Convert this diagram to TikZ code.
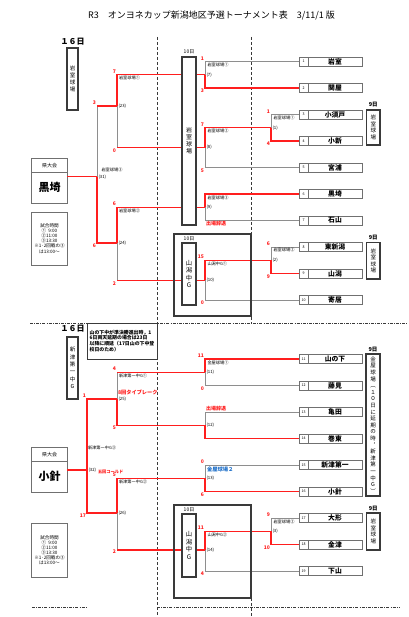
\documentclass[tikz,border=0pt]{standalone}
\usepackage{fontspec}
\setmainfont{Noto Sans CJK JP}
\usetikzlibrary{positioning}
\usepackage{xcolor}

\definecolor{winred}{HTML}{FF1E1E}
\definecolor{losegray}{HTML}{8E8E8E}
\definecolor{boxgray}{HTML}{707070}
\definecolor{darkline}{HTML}{3A3A3A}
\definecolor{siteblue}{HTML}{1E6FC8}

\tikzset{
	win/.style = {draw=winred, line width=1.2pt},
	lose/.style = {draw=losegray, line width=0.9pt},
	numcell/.style = {draw=boxgray, line width=0.8pt, outer sep=0pt, inner sep=0pt, minimum width=9pt, minimum height=9pt, font=\fontsize{3.6}{4}\selectfont},
	namecell/.style = {draw=boxgray, line width=0.8pt, outer sep=0pt, inner sep=0pt, minimum width=54pt, minimum height=9pt, font=\fontsize{6.8}{7}\selectfont\bfseries},
	score/.style = {text=winred, inner sep=0.3pt, font=\fontsize{5}{5}\selectfont\bfseries},
	site/.style = {inner sep=0.3pt, font=\fontsize{4.2}{4.5}\selectfont},
	gameno/.style = {inner sep=0.3pt, font=\fontsize{4.3}{4.5}\selectfont},
	venue/.style = {draw=darkline, line width=1.1pt, fill=white, outer sep=0pt, inner sep=0pt, align=center},
	enclosure/.style = {draw=darkline, line width=1.1pt, outer sep=0pt, inner sep=0pt, minimum width=77pt},
	day/.style = {inner sep=0pt, font=\fontsize{5.5}{5.5}\selectfont\bfseries},
	smallday/.style = {inner sep=0pt, font=\fontsize{5}{5}\selectfont},
	bigday/.style = {inner sep=0pt, font=\fontsize{8}{8}\selectfont\bfseries},
	redtag/.style = {text=winred, inner sep=0.3pt, font=\fontsize{5}{5}\selectfont\bfseries},
	panel/.style = {draw=boxgray, line width=0.9pt, outer sep=0pt, inner sep=0pt, minimum width=35.6pt, align=center},
	sep/.style = {draw=darkline, line width=0.8pt, dash pattern=on 3pt off 2pt},
	sepdot/.style = {draw=darkline, line width=0.7pt, dash pattern=on 3pt off 1.2pt on 0.8pt off 1.2pt}
}

\begin{document}
\begin{tikzpicture}[x=1pt, y=-1pt]
	\useasboundingbox (0,0) rectangle (408,617);

	\node[font=\fontsize{9}{9}\selectfont] (title) at (211.5,15.7) {R3　オンヨネカップ新潟地区予選トーナメント表　3/11/1 版};

	\draw[sep] (157,37) -- (157,617);
	\draw[sep] (251,37) -- (251,323);
	\draw[sep] (251,598) -- (251,617);
	\draw[sepdot] (30,323) -- (408,323);
	\draw[sepdot] (32,607) -- (87,607);
	\draw[sepdot] (157,607) -- (400,607);

	\node[bigday] (day16a) at (72.5,42) {１６日};
	\node[venue, minimum width=11pt, minimum height=62pt, font=\fontsize{5.5}{7}\selectfont] (iwamuroL) at (72.5,79) {岩\\室\\球\\場};
	\node[panel, minimum height=13.6pt, font=\fontsize{5}{5}\selectfont] (ken1h) at (49.5,165.5) {県大会};
	\node[panel, minimum height=30.7pt, font=\fontsize{11}{11}\selectfont\bfseries] (ken1) [below=0pt of ken1h] {黒埼};
	\node[panel, minimum height=53pt, font=\fontsize{4.6}{5.1}\selectfont] (time1) at (49.5,238.5) {試合時間\\①\ \ 9:00\\②11:00\\③13:30\\※1･2回戦の③\\は13:00～};

	\node[bigday] (day16b) at (72.5,329) {１６日};
	\node[venue, minimum width=11pt, minimum height=62pt, font=\fontsize{5.5}{7.4}\selectfont] (niitsuL) at (72.5,368) {新\\津\\第\\一\\中\\G};
	\node[panel, minimum height=13.8pt, font=\fontsize{5}{5}\selectfont] (ken2h) at (49.5,454.2) {県大会};
	\node[panel, minimum height=31pt, font=\fontsize{11}{11}\selectfont\bfseries] (ken2) [below=0pt of ken2h] {小針};
	\node[panel, minimum height=54pt, font=\fontsize{4.6}{5.1}\selectfont] (time2) at (49.5,550) {試合時間\\①\ \ 9:00\\②11:00\\③13:30\\※1･2回戦の③\\は13:00～};

	\node[numcell] (n1) at (303.5,61.5) {1};
	\node[namecell] (t1) [right=0pt of n1] {岩室};
	\node[numcell] (n2) at (303.5,88) {2};
	\node[namecell] (t2) [right=0pt of n2] {関屋};
	\node[numcell] (n3) at (303.5,114.5) {3};
	\node[namecell] (t3) [right=0pt of n3] {小須戸};
	\node[numcell] (n4) at (303.5,141) {4};
	\node[namecell] (t4) [right=0pt of n4] {小新};
	\node[numcell] (n5) at (303.5,167.5) {5};
	\node[namecell] (t5) [right=0pt of n5] {宮浦};
	\node[numcell] (n6) at (303.5,194) {6};
	\node[namecell] (t6) [right=0pt of n6] {黒埼};
	\node[numcell] (n7) at (303.5,220.5) {7};
	\node[namecell] (t7) [right=0pt of n7] {石山};
	\node[numcell] (n8) at (303.5,247) {8};
	\node[namecell] (t8) [right=0pt of n8] {東新潟};
	\node[numcell] (n9) at (303.5,273.5) {9};
	\node[namecell] (t9) [right=0pt of n9] {山潟};
	\node[numcell] (n10) at (303.5,300) {10};
	\node[namecell] (t10) [right=0pt of n10] {寄居};
	\node[numcell] (n11) at (303.5,359) {11};
	\node[namecell] (t11) [right=0pt of n11] {山の下};
	\node[numcell] (n12) at (303.5,385.5) {12};
	\node[namecell] (t12) [right=0pt of n12] {藤見};
	\node[numcell] (n13) at (303.5,412) {13};
	\node[namecell] (t13) [right=0pt of n13] {亀田};
	\node[numcell] (n14) at (303.5,438.5) {14};
	\node[namecell] (t14) [right=0pt of n14] {巻東};
	\node[numcell] (n15) at (303.5,465) {15};
	\node[namecell] (t15) [right=0pt of n15] {新津第一};
	\node[numcell] (n16) at (303.5,491.5) {16};
	\node[namecell] (t16) [right=0pt of n16] {小針};
	\node[numcell] (n17) at (303.5,518) {17};
	\node[namecell] (t17) [right=0pt of n17] {大形};
	\node[numcell] (n18) at (303.5,544.5) {18};
	\node[namecell] (t18) [right=0pt of n18] {金津};
	\node[numcell] (n19) at (303.5,571) {19};
	\node[namecell] (t19) [right=0pt of n19] {下山};

	\coordinate (m1) at (271,127.7);
	\coordinate (m2) at (271,260.3);
	\coordinate (m7) at (205,74.7);
	\coordinate (m8) at (205,147.6);
	\coordinate (m9) at (205,207.2);
	\coordinate (m10) at (205,280.2);
	\coordinate (m23) at (117,106);
	\coordinate (m24) at (117,243);
	\coordinate (m31) at (97,176.7);
	\coordinate (m11) at (205,372.2);
	\coordinate (m12) at (205,425.2);
	\coordinate (m13) at (205,478.2);
	\coordinate (m3) at (271,531.2);
	\coordinate (m14) at (205,550);
	\coordinate (m25) at (117,399);
	\coordinate (m26) at (117,513);
	\coordinate (m32) at (87,470);

	\draw[lose] (n1.west) -- (m7 |- n1.west) -- (m7);
	\draw[win] (m7) -- (m7 |- n2.west) -- (n2.west);
	\draw[lose] (n3.west) -- (m1 |- n3.west) -- (m1);
	\draw[win] (m1) -- (m1 |- n4.west) -- (n4.west);
	\draw[lose] (m8) -- (m8 |- n5.west) -- (n5.west);
	\draw[win] (m1) -- (m8 |- m1) -- (m8);
	\draw[lose] (m9) -- (m9 |- n7.west) -- (n7.west);
	\draw[win] (n6.west) -- (m9 |- n6.west) -- (m9);
	\draw[lose] (n8.west) -- (m2 |- n8.west) -- (m2);
	\draw[win] (m2) -- (m2 |- n9.west) -- (n9.west);
	\draw[lose] (m10) -- (m10 |- n10.west) -- (n10.west);
	\draw[win] (m2) -- (m10 |- m2) -- (m10);
	\draw[lose] (m23) -- (m23 |- m8);
	\draw[win] (m23 |- m8) -- (m8);
	\draw[win] (m7) -- (m23 |- m7) -- (m23);
	\draw[lose] (m24) -- (m24 |- m10);
	\draw[win] (m24 |- m10) -- (m10);
	\draw[win] (m9) -- (m24 |- m9) -- (m24);
	\draw[lose] (m31 |- m23) -- (m31);
	\draw[win] (m23) -- (m31 |- m23);
	\draw[win] (m31) -- (m31 |- m24) -- (m24);
	\draw[win] (m31) -- (m31 -| ken1.east);

	\draw[lose] (m11) -- (m11 |- n12.west) -- (n12.west);
	\draw[win] (n11.west) -- (m11 |- n11.west) -- (m11);
	\draw[lose] (n13.west) -- (m12 |- n13.west) -- (m12);
	\draw[win] (m12) -- (m12 |- n14.west) -- (n14.west);
	\draw[lose] (n15.west) -- (m13 |- n15.west) -- (m13);
	\draw[win] (m13) -- (m13 |- n16.west) -- (n16.west);
	\draw[lose] (n17.west) -- (m3 |- n17.west) -- (m3);
	\draw[win] (m3) -- (m3 |- n18.west) -- (n18.west);
	\draw[lose] (m14) -- (m14 |- n19.west) -- (n19.west);
	\draw[win] (m3) -- (m14 |- m3) -- (m14);
	\draw[lose] (m25) -- (m25 |- m11);
	\draw[win] (m25 |- m11) -- (m11);
	\draw[win] (m12) -- (m25 |- m12) -- (m25);
	\draw[lose] (m26) -- (m26 |- m14);
	\draw[win] (m26 |- m14) -- (m14);
	\draw[win] (m13) -- (m26 |- m13) -- (m26);
	\draw[win] (m25) -- (m32 |- m25) -- (m32 |- m26) -- (m26);
	\draw[win] (m32) -- (m32 -| ken2.east);

	\node[score, anchor=south east] (s7a) at (204.5,60.7) {1};
	\node[score, anchor=north east] (s7b) at (204.5,88.6) {3};
	\node[site, anchor=north west] (p7) at (207,62.5) {岩室球場①};
	\node[gameno, anchor=west] (g7) at (206,74.7) {(7)};
	\node[score, anchor=south east] (s1a) at (270.5,113.7) {1};
	\node[score, anchor=north east] (s1b) at (270.5,141.6) {4};
	\node[site, anchor=north west] (p1) at (273,115.3) {岩室球場①};
	\node[gameno, anchor=west] (g1) at (272,127.7) {(1)};
	\node[score, anchor=south east] (s8a) at (204.5,126.9) {7};
	\node[score, anchor=north east] (s8b) at (204.5,168.1) {5};
	\node[site, anchor=north west] (p8) at (207,128.7) {岩室球場②};
	\node[gameno, anchor=west] (g8) at (206,147.6) {(8)};
	\node[site, anchor=north west] (p9) at (207,195.2) {岩室球場③};
	\node[gameno, anchor=west] (g9) at (206,207.2) {(9)};
	\node[redtag, anchor=west] (r9) at (205.5,223.5) {出場辞退};
	\node[score, anchor=south east] (s2a) at (270.5,246.2) {6};
	\node[score, anchor=north east] (s2b) at (270.5,274.1) {9};
	\node[site, anchor=north west] (p2) at (273,247.8) {岩室球場②};
	\node[gameno, anchor=west] (g2) at (272,260.3) {(2)};
	\node[score, anchor=south east] (s10a) at (204.5,259.5) {15};
	\node[score, anchor=north east] (s10b) at (204.5,300.6) {0};
	\node[site, anchor=north west] (p10) at (207,261.3) {山潟中G①};
	\node[gameno, anchor=west] (g10) at (206,280.2) {(10)};
	\node[score, anchor=south east] (s23a) at (116.5,73.9) {7};
	\node[score, anchor=north east] (s23b) at (116.5,148.2) {0};
	\node[site, anchor=north west] (p23) at (118.5,75.5) {岩室球場①};
	\node[gameno, anchor=west] (g23) at (118,106) {(23)};
	\node[score, anchor=south east] (s24a) at (116.5,206.4) {6};
	\node[score, anchor=north east] (s24b) at (116.5,280.8) {2};
	\node[site, anchor=north west] (p24) at (118.5,208.1) {岩室球場②};
	\node[gameno, anchor=west] (g24) at (118,243) {(24)};
	\node[score, anchor=south east] (s31a) at (96.5,105.2) {3};
	\node[score, anchor=north east] (s31b) at (96.5,243.6) {6};
	\node[site, anchor=west] (p31) at (101,170) {岩室球場③};
	\node[gameno, anchor=west] (g31) at (98,176.7) {(31)};

	\node[score, anchor=south east] (s11a) at (204.5,358.2) {11};
	\node[score, anchor=north east] (s11b) at (204.5,386.1) {0};
	\node[site, anchor=north west] (p11) at (207,360) {金屋球場①};
	\node[gameno, anchor=west] (g11) at (206,372.2) {(11)};
	\node[redtag, anchor=west] (r12) at (205.5,409) {出場辞退};
	\node[gameno, anchor=west] (g12) at (206,425.2) {(12)};
	\node[score, anchor=south east] (s13a) at (204.5,464.2) {0};
	\node[score, anchor=north east] (s13b) at (204.5,492.1) {6};
	\node[anchor=west, inner sep=0.3pt, text=siteblue, font=\fontsize{5.3}{5.5}\selectfont\bfseries] (p13) at (206.5,469.5) {金屋球場２};
	\node[gameno, anchor=west] (g13) at (206,478.2) {(13)};
	\node[score, anchor=south east] (s3a) at (270.5,517.2) {9};
	\node[score, anchor=north east] (s3b) at (270.5,545.1) {10};
	\node[site, anchor=north west] (p3) at (273,519) {岩室球場②};
	\node[gameno, anchor=west] (g3) at (272,531.2) {(3)};
	\node[score, anchor=south east] (s14a) at (204.5,530.4) {11};
	\node[score, anchor=north east] (s14b) at (204.5,571.6) {4};
	\node[site, anchor=north west] (p14) at (207,532.2) {山潟中G②};
	\node[gameno, anchor=west] (g14) at (206,550) {(14)};
	\node[score, anchor=south east] (s25a) at (116.5,371.4) {4};
	\node[score, anchor=north east] (s25b) at (116.5,425.8) {5};
	\node[site, anchor=north west] (p25) at (118.5,373) {新津第一中G①};
	\node[redtag, anchor=west, font=\fontsize{5.2}{5.5}\selectfont\bfseries] (r25) at (117.5,392) {8回タイブレーク};
	\node[gameno, anchor=west] (g25) at (118,399) {(25)};
	\node[score, anchor=south east] (s26a) at (116.5,477.4) {5};
	\node[score, anchor=north east] (s26b) at (116.5,549.6) {2};
	\node[site, anchor=north west] (p26) at (118.5,479.5) {新津第一中G②};
	\node[redtag, anchor=west, font=\fontsize{4.2}{4.5}\selectfont\bfseries] (r26) at (97.5,471.7) {五回コールド};
	\node[gameno, anchor=west] (g26) at (118,513) {(26)};
	\node[score, anchor=south east] (s32a) at (86.5,398.2) {1};
	\node[score, anchor=north east] (s32b) at (86.5,513.6) {17};
	\node[site, anchor=west] (p32) at (87.5,448) {新津第一中G③};
	\node[gameno, anchor=west] (g32) at (88,470) {(32)};

	\node[smallday] (d10a) at (189,52) {10日};
	\node[venue, minimum width=14pt, minimum height=168pt, font=\fontsize{6}{7}\selectfont] (iwamuroM) at (189,141) {岩\\室\\球\\場};
	\node[enclosure, minimum height=82pt] (encA) at (212.5,275) {};
	\node[smallday] (d10b) at (189,239) {10日};
	\node[venue, minimum width=14pt, minimum height=62pt, font=\fontsize{6.3}{7.4}\selectfont] (yamagataA) at (189,274) {山\\潟\\中\\G};
	\node[enclosure, minimum height=93pt] (encB) at (212.5,551.5) {};
	\node[smallday] (d10c) at (189,510) {10日};
	\node[venue, minimum width=14pt, minimum height=63pt, font=\fontsize{6.3}{7.4}\selectfont] (yamagataB) at (189,545.5) {山\\潟\\中\\G};

	\node[day] (d9a) at (373.3,105) {9日};
	\node[venue, minimum width=13.3pt, minimum height=35pt, font=\fontsize{5.5}{6.4}\selectfont] (iwamuroR1) at (373.3,127.5) {岩\\室\\球\\場};
	\node[day] (d9b) at (373.3,237.5) {9日};
	\node[venue, minimum width=13.3pt, minimum height=36.3pt, font=\fontsize{5.5}{6.4}\selectfont] (iwamuroR2) at (373.3,260.8) {岩\\室\\球\\場};
	\node[day] (d9c) at (373,349.5) {9日};
	\node[venue, minimum width=14pt, minimum height=142pt, font=\fontsize{5.5}{6.6}\selectfont] (kanayaR) at (373,425) {金\\屋\\球\\場\\︵\\１\\０\\日\\に\\延\\期\\の\\時\\︐\\新\\津\\第\\一\\中\\G\\︶};
	\node[day] (d9d) at (373.3,509) {9日};
	\node[venue, minimum width=13.3pt, minimum height=37pt, font=\fontsize{5.5}{6.4}\selectfont] (iwamuroR3) at (373.3,531.5) {岩\\室\\球\\場};

	\node[venue, line width=1pt, minimum width=70pt, minimum height=36pt, align=left, font=\fontsize{4.9}{5.9}\selectfont\bfseries] (note) at (122,341) {山の下中が準決勝進出時，1\\6日両天延期の場合は23日\\以降に順延（17日山の下中登\\校日のため）};
\end{tikzpicture}
\end{document}
